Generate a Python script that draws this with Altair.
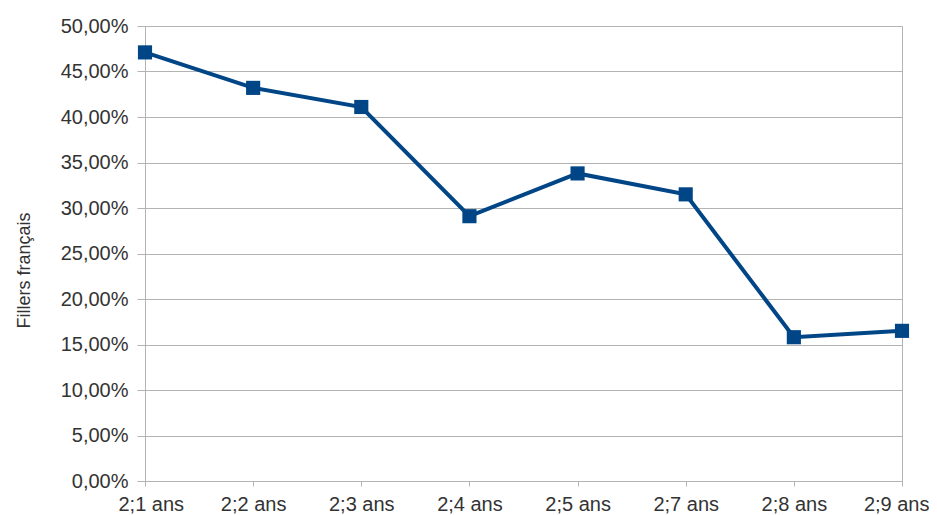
import altair as alt
import pandas as pd

categories = ["2;1 ans", "2;2 ans", "2;3 ans", "2;4 ans", "2;5 ans", "2;7 ans", "2;8 ans", "2;9 ans"]
values = [0.471, 0.432, 0.411, 0.291, 0.338, 0.315, 0.158, 0.165]
y_ticks = [0, 0.05, 0.10, 0.15, 0.20, 0.25, 0.30, 0.35, 0.40, 0.45, 0.50]

df = pd.DataFrame({"age": categories, "val": values})

FONT = "Liberation Sans"
BLUE = "#004586"
GRID = "#b3b3b3"

x = alt.X("age:N", sort=categories, title=None,
          scale=alt.Scale(type="point", padding=0),
          axis=alt.Axis(labelAngle=0, labelFont=FONT, labelFontSize=20, labelColor="#333333",
                        labelPadding=8, tickSize=5, tickColor=GRID, domainColor=GRID,
                        labelOverlap=False, grid=False, labelFlush=True, labelFlushOffset=27))
y = alt.Y("val:Q", title="Fillers français",
          scale=alt.Scale(domain=[0, 0.5], nice=False),
          axis=alt.Axis(values=y_ticks, labelExpr="replace(format(datum.value * 100, '.2f'), '.', ',') + '%'",
                        labelFont=FONT, labelFontSize=20, labelColor="#333333", labelPadding=9,
                        tickSize=8, tickColor=GRID, domainColor=GRID, gridColor=GRID,
                        titleFont=FONT, titleFontSize=18, titleFontWeight="normal", titleColor="#333333",
                        titlePadding=27, titleY=244))

line = alt.Chart(df).mark_line(color=BLUE, strokeWidth=4).encode(x=x, y=y)
pts = alt.Chart(df).mark_point(shape="square", filled=True, opacity=1, color=BLUE, size=200).encode(x=x, y=y)

chart = (line + pts).properties(
    width=757, height=455,
    autosize=alt.AutoSizeParams(type="none"),
    padding={"left": 137, "top": 18, "right": 27, "bottom": 36},
).configure_view(stroke=GRID, strokeWidth=1)

chart.save("out.html", embed_options={"renderer": "svg", "actions": False})
